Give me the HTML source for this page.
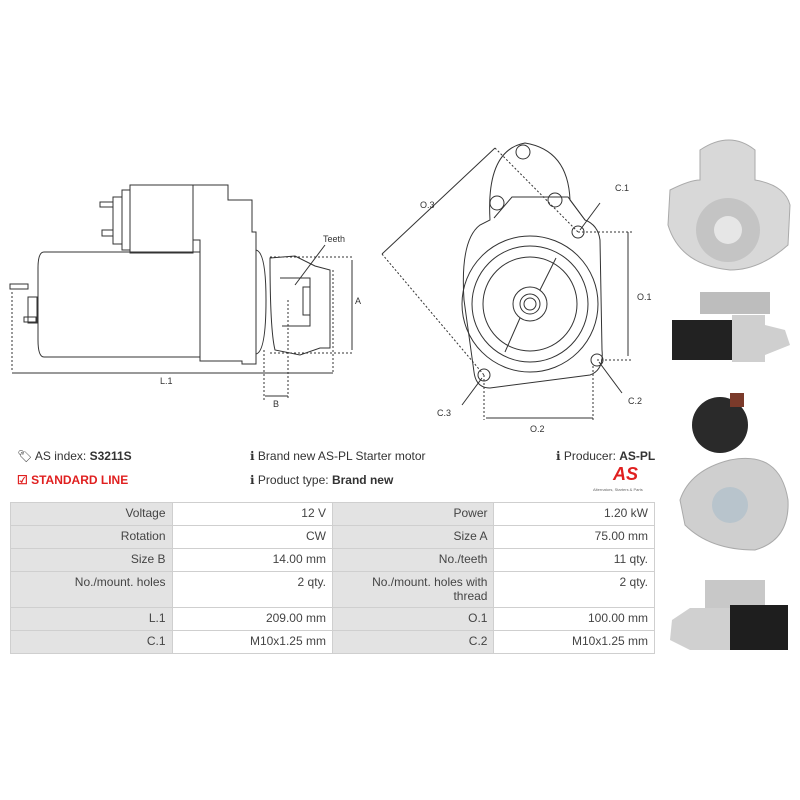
<!DOCTYPE html>
<html><head><meta charset="utf-8"><style>
body{margin:0;width:800px;height:800px;background:#fff;font-family:"Liberation Sans",sans-serif;position:relative;overflow:hidden}
.t{position:absolute;font-size:12px;color:#333;white-space:nowrap}
table{position:absolute;left:10px;top:502px;width:645px;border-collapse:collapse;font-size:12px;color:#444}
td{border:1px solid #cfcfcf;padding:3px 6px;text-align:right;vertical-align:top;height:16px}
td.l{background:#e3e3e3;width:148px}
td.v{background:#fff;width:147px}
</style></head><body>
<svg width="800" height="440" style="position:absolute;left:0;top:0" fill="none" stroke="#333" stroke-width="1">
<!-- left side view -->
<path d="M44 252 H200 V357 H44 Q38 357 38 340 V268 Q38 252 44 252Z"/>
<path d="M200 255 V361 H242 V364 H256 V232 H252 V200 H228 V185 H193 V240 H200 Z"/>
<rect x="130" y="185" width="63" height="68"/>
<rect x="122" y="190" width="8" height="60"/>
<rect x="113" y="197" width="9" height="47"/>
<rect x="100" y="202" width="13" height="5"/><rect x="102" y="230" width="11" height="6"/>
<rect x="28" y="297" width="9" height="26"/><rect x="10" y="284" width="18" height="5"/><rect x="24" y="317" width="12" height="5"/>
<path d="M256 250 Q266 252 266 300 Q266 352 256 354"/>
<path d="M270 258 L295 256 L315 266 L330 270 V348 H320 L300 355 L275 350 Q270 330 270 258Z"/>
<path d="M280 278 H310 V326 H282"/><rect x="303" y="287" width="7" height="28"/>
<g stroke-dasharray="2,2"><path d="M270 257 H353 M270 353 H353 M12 292 V372 M333 270 V372 M264 350 V400 M288 300 V400"/></g>
<path d="M12 373 H333 M352 260 V350 M265 396 H288"/>
<path d="M295 285 L325 245"/>
<!-- front view -->
<path d="M490 220 Q486 150 525 143 Q568 150 570 200 L585 220 Q598 225 600 240 L602 350 Q604 370 590 375 L490 388 Q476 388 474 372 L464 300 Q460 240 480 225 Z"/>
<path d="M494 218 L512 197 L568 197 L585 220"/>
<circle cx="530" cy="304" r="68"/><circle cx="530" cy="304" r="58"/><circle cx="530" cy="304" r="47"/>
<circle cx="530" cy="304" r="17"/><circle cx="530" cy="304" r="10"/><circle cx="530" cy="304" r="6"/>
<path d="M540 290 L556 258 M520 318 L505 352"/>
<circle cx="523" cy="152" r="7"/><circle cx="497" cy="203" r="7"/><circle cx="555" cy="200" r="7"/>
<circle cx="578" cy="232" r="6"/><circle cx="597" cy="360" r="6"/><circle cx="484" cy="375" r="6"/>
<g stroke-dasharray="2,2"><path d="M578 232 H632 M597 360 H632 M484 375 V420 M593 366 V420 M495 148 L578 232 M382 254 L484 375"/></g>
<path d="M495 148 L382 254 M628 232 V356 M486 418 H593 M580 230 L600 203 M599 362 L622 393 M482 378 L462 405"/>
</svg>
<div class="t" style="left:323px;top:234px;font-size:9px">Teeth</div>
<div class="t" style="left:355px;top:296px;font-size:9px">A</div>
<div class="t" style="left:160px;top:376px;font-size:9px">L.1</div>
<div class="t" style="left:273px;top:399px;font-size:9px">B</div>
<div class="t" style="left:420px;top:200px;font-size:9px">O.3</div>
<div class="t" style="left:615px;top:183px;font-size:9px">C.1</div>
<div class="t" style="left:637px;top:292px;font-size:9px">O.1</div>
<div class="t" style="left:628px;top:396px;font-size:9px">C.2</div>
<div class="t" style="left:437px;top:408px;font-size:9px">C.3</div>
<div class="t" style="left:530px;top:424px;font-size:9px">O.2</div>
<!-- photos -->
<svg width="140" height="560" style="position:absolute;left:660px;top:130px">
<path d="M40 20 Q70 0 95 20 L95 50 Q125 55 130 75 L128 115 Q100 140 70 140 Q20 135 8 95 L10 60 Q30 50 40 50Z" fill="#d8d8d8" stroke="#aaa"/>
<circle cx="68" cy="100" r="32" fill="#c4c4c4"/><circle cx="68" cy="100" r="14" fill="#e6e6e6"/>
<rect x="40" y="162" width="70" height="22" fill="#bdbdbd"/><rect x="12" y="190" width="60" height="40" fill="#222"/>
<path d="M72 185 H105 V232 H72Z M105 195 L125 200 L130 215 L105 225Z" fill="#cfcfcf"/>
<circle cx="60" cy="295" r="28" fill="#2a2a2a"/><rect x="70" y="263" width="14" height="14" fill="#7a3a2a"/>
<path d="M70 330 Q120 320 128 370 Q130 410 95 420 Q50 420 25 395 L20 370 Q30 340 70 330Z" fill="#cfcfcf" stroke="#aaa"/>
<circle cx="70" cy="375" r="18" fill="#b8c4cc"/>
<rect x="45" y="450" width="60" height="28" fill="#c8c8c8"/><rect x="70" y="475" width="58" height="45" fill="#1e1e1e"/>
<path d="M70 478 H30 L12 490 L10 510 L30 520 H70Z" fill="#d0d0d0"/>
</svg>
<div class="t" style="left:17px;top:449px">&#x1F3F7;&#xFE0E; AS index: <b>S3211S</b></div>
<div class="t" style="left:17px;top:473px;color:#e02020;font-weight:bold">&#x2611; STANDARD LINE</div>
<div class="t" style="left:250px;top:449px">&#x2139; Brand new AS-PL Starter motor</div>
<div class="t" style="left:250px;top:473px">&#x2139; Product type: <b>Brand new</b></div>
<div class="t" style="left:556px;top:449px">&#x2139; Producer: <b>AS-PL</b></div>
<div class="t" style="left:613px;top:464px;color:#e02020;font-weight:bold;font-style:italic;font-size:18px">AS</div>
<div class="t" style="left:593px;top:487px;font-size:4px;color:#666">Alternators, Starters &amp; Parts</div>
<table>
<tr><td class="l">Voltage</td><td class="v">12 V</td><td class="l">Power</td><td class="v">1.20 kW</td></tr>
<tr><td class="l">Rotation</td><td class="v">CW</td><td class="l">Size A</td><td class="v">75.00 mm</td></tr>
<tr><td class="l">Size B</td><td class="v">14.00 mm</td><td class="l">No./teeth</td><td class="v">11 qty.</td></tr>
<tr><td class="l" style="height:29px">No./mount. holes</td><td class="v">2 qty.</td><td class="l">No./mount. holes with<br>thread</td><td class="v">2 qty.</td></tr>
<tr><td class="l">L.1</td><td class="v">209.00 mm</td><td class="l">O.1</td><td class="v">100.00 mm</td></tr>
<tr><td class="l">C.1</td><td class="v">M10x1.25 mm</td><td class="l">C.2</td><td class="v">M10x1.25 mm</td></tr>
</table>
</body></html>
